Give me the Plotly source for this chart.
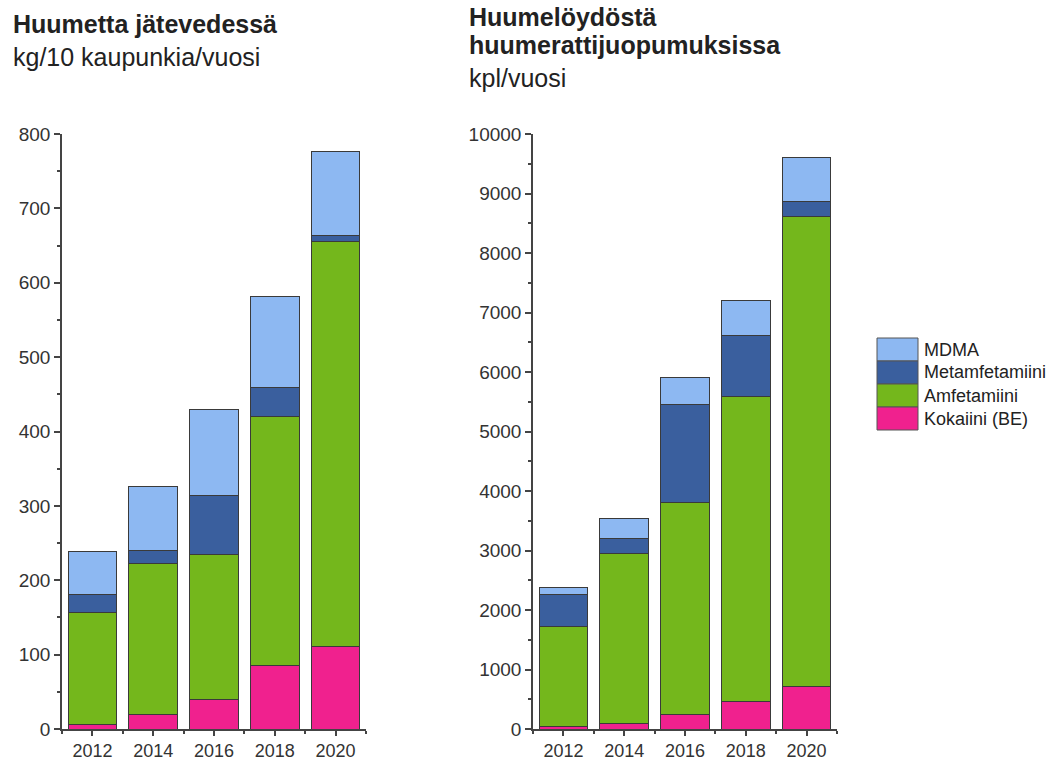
import plotly.graph_objects as go

# Years shown on both panels
years = [2012, 2014, 2016, 2018, 2020]

# Drugs in wastewater, kg / 10 cities / year
waste_kokaiini = [6, 19, 39, 85, 111]
waste_amfetamiini = [151, 204, 196, 335, 544]
waste_metamfetamiini = [24, 17, 79, 39, 9]
waste_mdma = [58, 86, 115, 122, 112]

# Drug findings in drug-driving cases, count / year
dui_kokaiini = [50, 100, 250, 470, 720]
dui_amfetamiini = [1680, 2850, 3560, 5110, 7900]
dui_metamfetamiini = [535, 250, 1640, 1040, 250]
dui_mdma = [120, 340, 460, 580, 740]

series_names = ["Kokaiini (BE)", "Amfetamiini", "Metamfetamiini", "MDMA"]
series_colors = ["#f0218e", "#74b71c", "#3a5f9e", "#8db8f2"]

left_title = ["<b>Huumetta jätevedessä</b>", "kg/10 kaupunkia/vuosi"]
right_title = ["<b>Huumelöydöstä</b>", "<b>huumerattijuopumuksissa</b>", "kpl/vuosi"]

W, H = 1057, 760
FONT = "Liberation Sans, Arial, sans-serif"
TXT = "#222222"
AX = "#444444"


def px_x(p):
    return p / W


def px_y(p):
    return 1 - p / H


fig = go.Figure()

left_data = [waste_kokaiini, waste_amfetamiini, waste_metamfetamiini, waste_mdma]
right_data = [dui_kokaiini, dui_amfetamiini, dui_metamfetamiini, dui_mdma]

for name, color, vals in zip(series_names, series_colors, left_data):
    fig.add_trace(go.Bar(
        x=years, y=vals, name=name, xaxis="x", yaxis="y",
        marker=dict(color=color, line=dict(color="#3a3a3a", width=1)),
        showlegend=False,
    ))
for name, color, vals in zip(series_names, series_colors, right_data):
    fig.add_trace(go.Bar(
        x=years, y=vals, name=name, xaxis="x2", yaxis="y2",
        marker=dict(color=color, line=dict(color="#3a3a3a", width=1)),
        showlegend=False,
    ))

plot_top, plot_bottom = 134, 729
left_dom = [px_x(62), px_x(366)]
right_dom = [px_x(533), px_x(837)]
ydom = [px_y(plot_bottom), px_y(plot_top)]

xcommon = dict(
    range=[2011, 2021], tickvals=years, ticktext=[str(y) for y in years],
    showline=True, linecolor=AX, linewidth=1.5, ticks="outside",
    ticklen=5, tickwidth=1.5, tickcolor=AX, showgrid=False, zeroline=False,
    tickfont=dict(family=FONT, size=18, color="#333333"),
    minor=dict(tickvals=[2011, 2013, 2015, 2017, 2019, 2021], ticklen=3,
               tickcolor=AX, ticks="outside"),
)
ycommon = dict(
    showline=True, linecolor=AX, linewidth=1.5, ticks="outside",
    ticklen=6, tickwidth=1.5, tickcolor=AX, showgrid=False, zeroline=False,
    tickformat="d",
    tickfont=dict(family=FONT, size=19, color="#333333"),
)

fig.update_layout(
    width=W, height=H,
    margin=dict(l=0, r=0, t=0, b=0, autoexpand=False),
    paper_bgcolor="white", plot_bgcolor="white",
    barmode="stack", bargap=0.2,
    font=dict(family=FONT, color=TXT),
    xaxis=dict(domain=left_dom, anchor="y", **xcommon),
    yaxis=dict(domain=ydom, anchor="x", range=[0, 800], dtick=100,
               minor=dict(dtick=50, ticklen=3, tickcolor=AX, ticks="outside"),
               **ycommon),
    xaxis2=dict(domain=right_dom, anchor="y2", **xcommon),
    yaxis2=dict(domain=ydom, anchor="x2", range=[0, 10000], dtick=1000,
                minor=dict(dtick=500, ticklen=3, tickcolor=AX, ticks="outside"),
                **ycommon),
)

# Panel titles
for text, yc in zip(left_title, [24, 57]):
    fig.add_annotation(text=text, xref="paper", yref="paper", x=px_x(11),
                       y=px_y(yc), xanchor="left", yanchor="middle",
                       showarrow=False, font=dict(family=FONT, size=25, color=TXT))
for text, yc in zip(right_title, [17, 45, 78]):
    fig.add_annotation(text=text, xref="paper", yref="paper", x=px_x(467),
                       y=px_y(yc), xanchor="left", yanchor="middle",
                       showarrow=False, font=dict(family=FONT, size=25, color=TXT))

# Legend: colour boxes with labels, top entry is the top of the stack
row_h = 23
legend_top = 338
for i, (name, color) in enumerate(reversed(list(zip(series_names, series_colors)))):
    y0 = legend_top + i * row_h
    fig.add_shape(type="rect", xref="paper", yref="paper",
                  x0=px_x(877), x1=px_x(918), y0=px_y(y0 + row_h), y1=px_y(y0),
                  fillcolor=color, line=dict(color="#555555", width=1))
    fig.add_annotation(text=name, xref="paper", yref="paper", x=px_x(922),
                       y=px_y(y0 + row_h / 2), xanchor="left", yanchor="middle",
                       showarrow=False, font=dict(family=FONT, size=18, color=TXT))

fig.write_html("out.html")
